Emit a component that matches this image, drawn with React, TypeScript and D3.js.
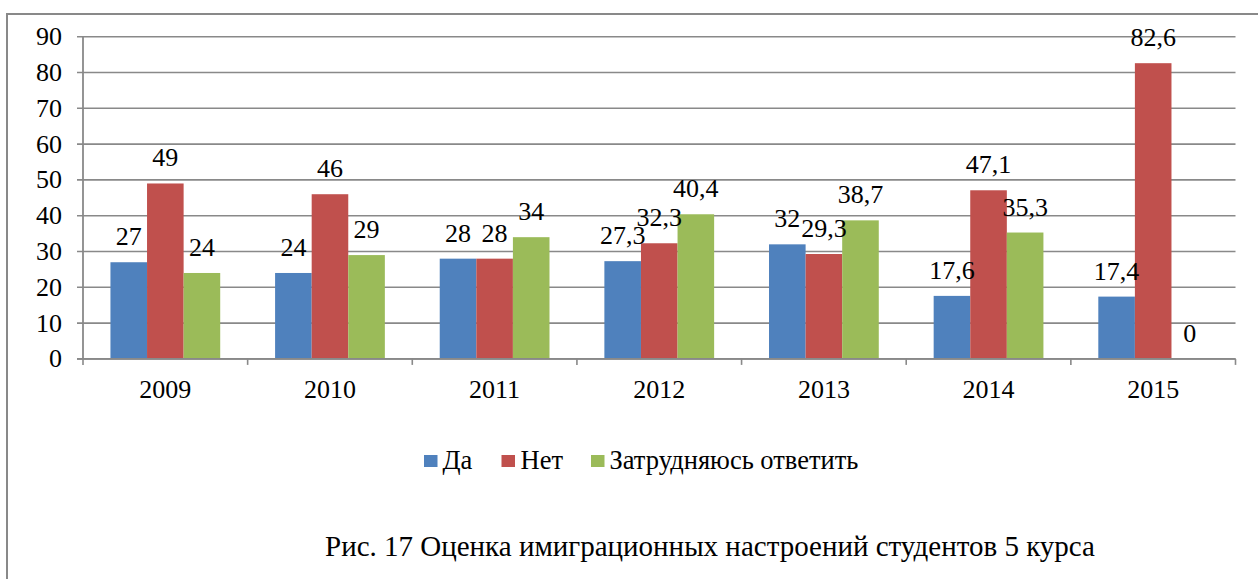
import React from "react";
import * as d3 from "d3";

const categories = ["2009", "2010", "2011", "2012", "2013", "2014", "2015"];
const seriesNames = ["Да", "Нет", "Затрудняюсь ответить"];
const seriesColors = ["#4F81BD", "#C0504D", "#9BBB59"];
const daValues = [27, 24, 28, 27.3, 32, 17.6, 17.4];
const netValues = [49, 46, 28, 32.3, 29.3, 47.1, 82.6];
const zatrValues = [24, 29, 34, 40.4, 38.7, 35.3, 0];
const yTicks = [0, 10, 20, 30, 40, 50, 60, 70, 80, 90];
const caption = "Рис. 17 Оценка имиграционных настроений студентов 5 курса";

const W = 1258;
const H = 579;
const FONT = "Liberation Serif";

export default function App() {
  const left = 83;
  const right = 1235.5;
  const top = 36.7;
  const bottom = 358.9;
  const series = [daValues, netValues, zatrValues];

  const x = d3.scaleBand<string>().domain(categories).range([left, right]).paddingInner(0).paddingOuter(0);
  const y = d3.scaleLinear().domain([0, 90]).range([bottom, top]);
  const bw = x.bandwidth();
  const barW = bw / (3 + 1.5);
  const inner = d3.scaleBand<number>().domain([0, 1, 2]).range([bw * 0.1667, bw * 0.1667 + barW * 3]);

  const fmt = (v: number) => String(v).replace(".", ",");
  const gray = "#898989";

  const legendItems = [
    { sx: 424, tx: 442.5 },
    { sx: 501.5, tx: 520.5 },
    { sx: 591, tx: 609.5 },
  ];

  return (
    <svg
      width={W}
      height={H}
      fontFamily={FONT}
      style={{ position: "absolute", left: 0, top: 0, background: "#fff", fontFamily: '"Liberation Serif"' }}
    >
      <style>{`text { font-family: "Liberation Serif"; }`}</style>
      <rect x={0} y={0} width={W} height={H} fill="#fff" />
      {/* frame */}
      <line x1={7} x2={W + 2} y1={14} y2={14} stroke={gray} strokeWidth={2} />
      <line x1={7} x2={7} y1={13} y2={H + 2} stroke={gray} strokeWidth={2} />
      {/* gridlines and y ticks */}
      {yTicks.map((t) => (
        <g key={t}>
          <line x1={left - 6} x2={right} y1={y(t)} y2={y(t)} stroke={gray} strokeWidth={1.6} />
          <text x={62} y={y(t) + 8.5} textAnchor="end" fontFamily={FONT} fontSize={26} fill="#000">
            {t}
          </text>
        </g>
      ))}
      {/* bars */}
      {categories.map((c, ci) => (
        <g key={c} transform={`translate(${x(c)},0)`}>
          {series.map((vals, si) => {
            const v = vals[ci];
            const bx = inner(si)!;
            return (
              <rect key={si} x={bx} y={y(v)} width={inner.bandwidth()} height={bottom - y(v)} fill={seriesColors[si]} />
            );
          })}
        </g>
      ))}
      {/* axes */}
      <line x1={left} x2={left} y1={top} y2={bottom} stroke={gray} strokeWidth={1.8} />
      <line x1={left - 6} x2={right} y1={bottom} y2={bottom} stroke={gray} strokeWidth={1.8} />
      {categories.map((c) => (
        <line key={"t" + c} x1={x(c)!} x2={x(c)!} y1={bottom} y2={bottom + 6} stroke={gray} strokeWidth={1.6} />
      ))}
      <line x1={right} x2={right} y1={bottom} y2={bottom + 6} stroke={gray} strokeWidth={1.6} />
      {/* data labels and category labels */}
      {categories.map((c, ci) => (
        <g key={"l" + c}>
          {series.map((vals, si) => {
            const v = vals[ci];
            const cx = x(c)! + inner(si)! + inner.bandwidth() / 2;
            return (
              <text key={si} x={cx} y={y(v) - 17} textAnchor="middle" fontFamily={FONT} fontSize={26} fill="#000">
                {fmt(v)}
              </text>
            );
          })}
          <text x={x(c)! + bw / 2} y={398} textAnchor="middle" fontFamily={FONT} fontSize={26} fill="#000">
            {c}
          </text>
        </g>
      ))}
      {/* legend */}
      {seriesNames.map((n, i) => (
        <g key={n}>
          <rect x={legendItems[i].sx} y={455} width={13.5} height={12} fill={seriesColors[i]} />
          <text x={legendItems[i].tx} y={469} fontFamily={FONT} fontSize={26.5} fill="#000">
            {n}
          </text>
        </g>
      ))}
      <text x={325} y={555.5} fontFamily={FONT} fontSize={29} fill="#000">
        {caption}
      </text>
    </svg>
  );
}
